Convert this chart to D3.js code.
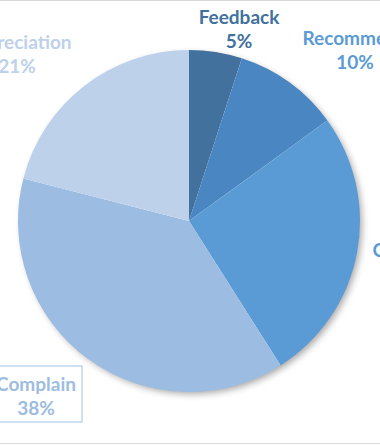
<!DOCTYPE html>
<html><head><meta charset="utf-8">
<script src="https://cdn.jsdelivr.net/npm/d3@7"></script>
<style>html,body{margin:0;padding:0;background:#fff;overflow:hidden}</style>
</head><body>
<svg id="chart" width="380" height="445"></svg>
<script>
const categories = ["Feedback", "Recommend", "Compliment", "Complain", "Appreciation"];
const values = [5, 10, 26, 38, 21];
const valueLabels = ["5%", "10%", "26%", "38%", "21%"];

// layout (not data)
const sliceColors = ["#41719C", "#4A87C2", "#5B9BD5", "#9DBCE2", "#BDD1EB"];
const labelColors = ["#41719C", "#5B9BD5", "#5B9BD5", "#9DBCE2", "#BDD1EB"];
const labelCenters = [[239, 17], [355, 38], [424, 250], [36, 384], [17, 42]];

const W = 380, H = 445, cx = 189, cy = 221, R = 171;
const svg = d3.select("#chart");

const defs = svg.append("defs");
const f = defs.append("filter").attr("id", "sh").attr("x", "-20%").attr("y", "-20%").attr("width", "140%").attr("height", "140%");
f.append("feDropShadow").attr("dx", 3).attr("dy", 3).attr("stdDeviation", 3.5).attr("flood-color", "#000").attr("flood-opacity", 0.35);

svg.append("line").attr("x1", 0).attr("x2", W).attr("y1", 0.5).attr("y2", 0.5).attr("stroke", "#d9d9d9");
svg.append("line").attr("x1", 0).attr("x2", W).attr("y1", 443.5).attr("y2", 443.5).attr("stroke", "#d9d9d9");

const pie = d3.pie().sort(null).value(d => d);
const arcs = pie(values);
const arc = d3.arc().innerRadius(0).outerRadius(R);

const g = svg.append("g").attr("transform", `translate(${cx},${cy})`);
g.append("circle").attr("r", R - 1).attr("fill", "#fff").attr("filter", "url(#sh)");
g.selectAll("path.slice").data(arcs).enter().append("path")
  .attr("class", "slice")
  .attr("d", arc)
  .attr("fill", (d, i) => sliceColors[i]);

const font = "Lato, 'Open Sans', sans-serif";
const lg = svg.selectAll("g.lbl").data(categories).enter().append("g")
  .attr("class", "lbl")
  .attr("transform", (d, i) => `translate(${labelCenters[i][0]},${labelCenters[i][1]})`);

// box for Complain label
lg.filter((d, i) => i === 3).append("rect")
  .attr("x", -46).attr("y", -18).attr("width", 92).attr("height", 56)
  .attr("fill", "#fff").attr("stroke", "#9DC3E6").attr("stroke-width", 1);

lg.append("text").attr("text-anchor", "middle").attr("dy", "0.35em")
  .attr("font-family", font).attr("font-weight", "bold").attr("font-size", 19)
  .attr("fill", (d, i) => labelColors[i]).text(d => d);
lg.append("text").attr("text-anchor", "middle").attr("y", 24).attr("dy", "0.35em")
  .attr("font-family", font).attr("font-weight", "bold").attr("font-size", 19)
  .attr("fill", (d, i) => labelColors[i]).text((d, i) => valueLabels[i]);
</script>
</body></html>
